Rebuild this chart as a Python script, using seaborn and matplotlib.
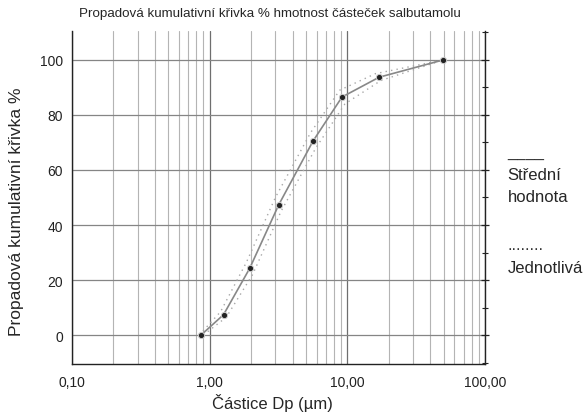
import matplotlib
matplotlib.use("Agg")
import matplotlib.pyplot as plt
import matplotlib.ticker as mticker
import numpy as np
import pandas as pd
import seaborn as sns

# data
particle_um = [0.865, 1.26, 1.95, 3.17, 5.63, 9.14, 17.0, 49.8]
mean_cum = [0.0, 7.4, 24.2, 47.3, 70.5, 86.5, 93.7, 100.0]
indiv_a_um = [0.9, 1.32, 2.05, 3.3, 5.9, 9.6, 17.5, 49.8]
indiv_a = [0.0, 6.5, 22.0, 45.0, 68.0, 84.0, 92.5, 100.0]
indiv_b_um = [0.84, 1.2, 1.85, 3.0, 5.4, 8.8, 16.0, 49.8]
indiv_b = [0.0, 8.5, 26.5, 50.0, 73.5, 89.0, 95.0, 100.0]

df = pd.DataFrame({"x": particle_um, "y": mean_cum})

sns.set_style("white")
plt.rcParams["font.family"] = ["Liberation Sans", "DejaVu Sans"]

fig = plt.figure(figsize=(5.86, 4.14), dpi=100)
ax = fig.add_axes([0.1229, 0.1184, 0.7048, 0.8043])

ax.set_xscale("log")
ax.set_xlim(0.1, 100)
ax.set_ylim(-10.5, 110.5)

# grid
ax.grid(True, which="major", axis="x", color="#6e6e6e", lw=0.9)
ax.grid(True, which="minor", axis="x", color="#b4b4b4", lw=0.8)
ax.grid(True, which="major", axis="y", color="#858585", lw=0.9)
ax.set_axisbelow(True)

# individual curves (dotted)
for xs, ys in [(indiv_a_um, indiv_a), (indiv_b_um, indiv_b)]:
    sns.lineplot(x=xs, y=ys, ax=ax, color="#a8a8a8", lw=1.0,
                 linestyle=(0, (1, 3)), sort=False)

# mean curve
sns.lineplot(data=df, x="x", y="y", ax=ax, color="#888888", lw=1.2, sort=False)
sns.scatterplot(data=df, x="x", y="y", ax=ax, color="#222222", s=20,
                edgecolor="#cccccc", linewidth=0.7, zorder=5)

ax.xaxis.set_major_locator(mticker.LogLocator(base=10))
ax.xaxis.set_minor_locator(mticker.LogLocator(base=10, subs=np.arange(2, 10)))
ax.xaxis.set_minor_formatter(mticker.NullFormatter())
ax.xaxis.set_major_formatter(mticker.FuncFormatter(
    lambda v, p: f"{v:.2f}".replace(".", ",")))
ax.set_yticks([0, 20, 40, 60, 80, 100])
ax.yaxis.set_minor_locator(mticker.MultipleLocator(10))

ax.tick_params(axis="y", which="major", direction="inout", length=6,
               width=0.9, labelsize=10, colors="#222222", right=True,
               labelright=False)
ax.tick_params(axis="y", which="minor", direction="inout", length=4,
               width=0.8, colors="#222222", right=True)
ax.tick_params(axis="x", which="major", direction="out", length=4,
               width=0.9, labelsize=10, colors="#222222", pad=4)
ax.tick_params(axis="x", which="minor", direction="in", length=3,
               width=0.8, colors="#222222")

for s in ["left", "right", "bottom"]:
    ax.spines[s].set_color("#222222")
    ax.spines[s].set_linewidth(1.0)
ax.spines["top"].set_visible(False)

ax.set_xlabel("Částice Dp (µm)", fontsize=12)
ax.xaxis.set_label_coords(0.485, -0.088)
ax.set_ylabel("Propadová kumulativní křivka %", fontsize=12.5)
ax.yaxis.set_label_coords(-0.1165, 0.459)
fig.text(0.461, 0.966, "Propadová kumulativní křivka % hmotnost částeček salbutamolu",
         ha="center", va="center", fontsize=9.6)

# legend as text
lx = 0.866
fig.text(lx, 0.63, "____", fontsize=12, va="center", color="#333333")
fig.text(lx, 0.55, "Střední\nhodnota", fontsize=12, va="center",
         linespacing=1.55)
fig.text(lx, 0.408, "........", fontsize=12, va="center", color="#333333")
fig.text(lx, 0.352, "Jednotlivá", fontsize=12, va="center")

fig.savefig("out.png", dpi=100)
